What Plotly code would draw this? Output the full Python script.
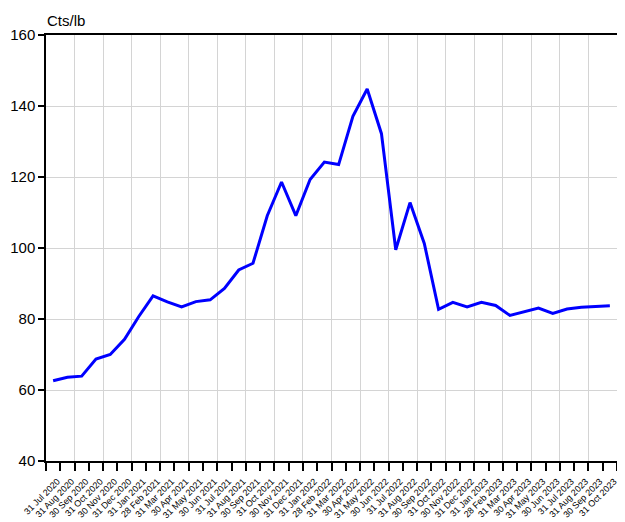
import plotly.graph_objects as go

months = ["31 Jul 2020", "31 Aug 2020", "30 Sep 2020", "31 Oct 2020", "30 Nov 2020", "31 Dec 2020",
          "31 Jan 2021", "28 Feb 2021", "31 Mar 2021", "30 Apr 2021", "31 May 2021", "30 Jun 2021",
          "31 Jul 2021", "31 Aug 2021", "30 Sep 2021", "31 Oct 2021", "30 Nov 2021", "31 Dec 2021",
          "31 Jan 2022", "28 Feb 2022", "31 Mar 2022", "30 Apr 2022", "31 May 2022", "30 Jun 2022",
          "31 Jul 2022", "31 Aug 2022", "30 Sep 2022", "31 Oct 2022", "30 Nov 2022", "31 Dec 2022",
          "31 Jan 2023", "28 Feb 2023", "31 Mar 2023", "30 Apr 2023", "31 May 2023", "30 Jun 2023",
          "31 Jul 2023", "31 Aug 2023", "30 Sep 2023", "31 Oct 2023"]

price = [62.6, 63.6, 63.9, 68.7, 70.0, 74.3, 80.7, 86.5, 84.8, 83.4, 84.9, 85.4,
         88.6, 93.8, 95.7, 109.1, 118.6, 109.1, 119.3, 124.2, 123.5, 137.1, 144.8, 132.2,
         99.5, 112.8, 101.3, 82.7, 84.7, 83.4, 84.7, 83.8, 81.0, 82.0, 83.1, 81.6,
         82.8, 83.3, 83.6, 83.7]

y_ticks = [40, 60, 80, 100, 120, 140, 160]
unit_label = "Cts/lb"

n = len(months)
xs = list(range(n))
label_pos = [i + 0.3 for i in xs]
boundaries = [i - 0.5 for i in range(n + 1)]
grid_pos = [i - 0.5 for i in range(2, n, 2)]

FONT = "Liberation Sans, Arial, sans-serif"

fig = go.Figure()
fig.add_trace(go.Scatter(x=xs, y=price, mode="lines",
                         line=dict(color="#0000FF", width=3), hoverinfo="skip",
                         showlegend=False))
fig.add_trace(go.Scatter(x=[grid_pos[0]], y=[price[0]], xaxis="x2", mode="markers",
                         marker=dict(opacity=0), showlegend=False, hoverinfo="skip"))

# the page body has an 8px margin, so the figure is offset by (8, 8)
fig.update_layout(
    width=617, height=514,
    margin=dict(l=38, r=8, t=27, b=61),
    paper_bgcolor="white", plot_bgcolor="white",
    font=dict(family=FONT, color="black"),
    xaxis=dict(range=[-0.5, n - 0.5], tickmode="array", tickvals=label_pos, ticktext=months,
               tickangle=-45, ticks="", showgrid=False, zeroline=False, automargin=False,
               tickfont=dict(size=9, family=FONT), ticklabelstandoff=10,
               showline=True, linecolor="black", linewidth=1.5, mirror=True,
               minor=dict(tickmode="array", tickvals=boundaries, ticks="outside", ticklen=8,
                          tickcolor="black", tickwidth=1.5, showgrid=False)),
    xaxis2=dict(range=[-0.5, n - 0.5], overlaying="x", side="bottom", tickmode="array",
                tickvals=grid_pos, showticklabels=False, ticks="", showgrid=True,
                automargin=False,
                gridcolor="#D4D4D4", gridwidth=1.2, zeroline=False, showline=False),
    yaxis=dict(range=[40, 160], tickmode="array", tickvals=y_ticks, ticks="outside",
               ticklen=6, tickcolor="black", tickwidth=1.5, showgrid=True, automargin=False,
               gridcolor="#D4D4D4", gridwidth=1.2, zeroline=False,
               tickfont=dict(size=15, family=FONT),
               showline=True, linecolor="black", linewidth=1.5, mirror=True),
    annotations=[dict(text=unit_label, xref="paper", yref="paper", x=0, y=1,
                      xanchor="left", yanchor="bottom", yshift=4, xshift=-1, showarrow=False,
                      font=dict(size=15, family=FONT))],
)

fig.write_html("out.html")
